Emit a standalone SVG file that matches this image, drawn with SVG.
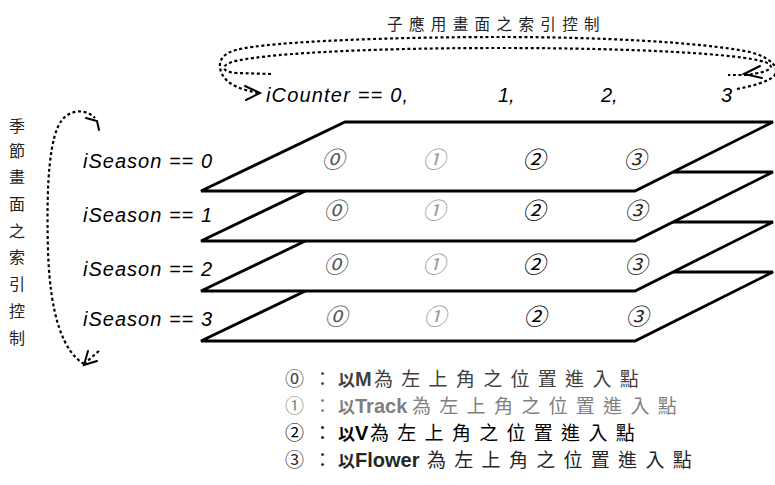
<svg xmlns="http://www.w3.org/2000/svg" width="775" height="485" viewBox="0 0 775 485">
<style>
.plane{fill:#fff;stroke:#000;stroke-width:2.8;stroke-linejoin:miter}
.dot{fill:none;stroke:#000;stroke-width:2.2;stroke-dasharray:3 2.6}
.head{fill:none;stroke:#000;stroke-width:2;stroke-linejoin:miter;stroke-linecap:round}
.lbl{font-family:"Liberation Sans",Arial,sans-serif;font-style:italic;font-size:20px;fill:#000}
.cjk{font-family:"Noto Sans CJK TC","Noto Sans CJK SC",sans-serif;fill:#222}
.cd{font-family:"Noto Sans CJK TC","DejaVu Sans",sans-serif;font-style:italic;font-size:23px;text-anchor:middle}
.c0{fill:#5a5a5a}.c1{fill:#9a9a9a}.c2{fill:#000}.c3{fill:#262626}
.lg{font-family:"Noto Sans CJK TC","Noto Sans CJK SC",sans-serif;font-size:19px}
.yi{font-weight:bold;font-size:17px}
.lat{font-family:"Liberation Sans",Arial,sans-serif;font-weight:bold;font-size:20px}
.kai{letter-spacing:8.3px}
</style>

<g id="title">
<text class="cjk" x="387" y="30" font-size="15.5" letter-spacing="6.4">子應用畫面之索引控制</text>
</g>

<g id="side-title" class="cjk" font-size="16" text-anchor="middle">
<text x="17" y="132">季</text>
<text x="17" y="157">節</text>
<text x="17" y="183">畫</text>
<text x="17" y="210">面</text>
<text x="17" y="237">之</text>
<text x="17" y="263">索</text>
<text x="17" y="290">引</text>
<text x="17" y="317">控</text>
<text x="17" y="344">制</text>
</g>

<g id="connectors">
<path class="dot" d="M737,89 C752,86 768,82 774,76 C780,68 772,58 750,52 C700,42 600,37 500,37 C400,37 270,41 236,50 C218,55 218,66 222,74 C228,86 244,90 258,93"/>
<polyline class="head" points="245,86 260,93 246,100"/>
<path class="dot" d="M271,74 L236,73 C222,72 220,66 232,62 C260,54 360,48 500,48 C640,48 740,54 765,62 C776,66 772,72 746,75 L728,75"/>
<polyline class="head" points="760,66 744,74 762,78"/>
<path class="dot" d="M84,364 C64,352 50,318 48,250 C46,180 50,135 62,120 C70,110 85,108 95,118"/>
<polyline class="head" points="86,118 97,121 99,130"/>
<path class="dot" d="M84,364 L100,350"/>
<polyline class="head" points="97,361 84,365 88,351"/>
</g>

<g id="counter-labels" class="lbl">
<text x="266" y="102" textLength="142" lengthAdjust="spacing">iCounter == 0,</text>
<text x="498" y="102">1,</text>
<text x="601" y="102">2,</text>
<text x="721" y="102">3</text>
</g>

<g id="plane3">
<polygon class="plane" points="201,341 635,341 773,272 345,272"/>
<text class="cd c0" x="336" y="325">⓪</text>
<text class="cd c1" x="435" y="325">①</text>
<text class="cd c2" x="535" y="325">②</text>
<text class="cd c3" x="637" y="325">③</text>
</g>
<g id="plane2">
<polygon class="plane" points="201,291 635,291 773,222 345,222"/>
<text class="cd c0" x="335" y="273">⓪</text>
<text class="cd c1" x="434" y="273">①</text>
<text class="cd c2" x="534" y="273">②</text>
<text class="cd c3" x="636" y="273">③</text>
</g>
<g id="plane1">
<polygon class="plane" points="201,241 635,241 773,172 345,172"/>
<text class="cd c0" x="335" y="219">⓪</text>
<text class="cd c1" x="434" y="219">①</text>
<text class="cd c2" x="534" y="219">②</text>
<text class="cd c3" x="636" y="219">③</text>
</g>
<g id="plane0">
<polygon class="plane" points="201,191 635,191 773,122 345,122"/>
<text class="cd c0" x="333" y="168">⓪</text>
<text class="cd c1" x="434" y="168">①</text>
<text class="cd c2" x="534" y="168">②</text>
<text class="cd c3" x="635" y="168">③</text>
</g>

<g id="season-labels" class="lbl">
<text x="83" y="168" textLength="129" lengthAdjust="spacing">iSeason == 0</text>
<text x="83" y="222" textLength="129" lengthAdjust="spacing">iSeason == 1</text>
<text x="83" y="276" textLength="129" lengthAdjust="spacing">iSeason == 2</text>
<text x="83" y="326" textLength="129" lengthAdjust="spacing">iSeason == 3</text>
</g>

<g id="legend">
<text class="lg" y="386" fill="#404040"><tspan x="285">⓪</tspan><tspan x="313">：</tspan><tspan x="338" class="yi">以</tspan><tspan class="lat">M</tspan><tspan x="374" class="kai">為左上角之位置進入點</tspan></text>
<text class="lg" y="413" fill="#7f7f7f"><tspan x="285">①</tspan><tspan x="313">：</tspan><tspan x="338" class="yi">以</tspan><tspan class="lat">Track</tspan><tspan x="412" class="kai">為左上角之位置進入點</tspan></text>
<text class="lg" y="440" fill="#000"><tspan x="285">②</tspan><tspan x="313">：</tspan><tspan x="338" class="yi">以</tspan><tspan class="lat">V</tspan><tspan x="370" class="kai">為左上角之位置進入點</tspan></text>
<text class="lg" y="467" fill="#262626"><tspan x="285">③</tspan><tspan x="313">：</tspan><tspan x="338" class="yi">以</tspan><tspan class="lat">Flower</tspan><tspan x="427" class="kai">為左上角之位置進入點</tspan></text>
</g>
</svg>
